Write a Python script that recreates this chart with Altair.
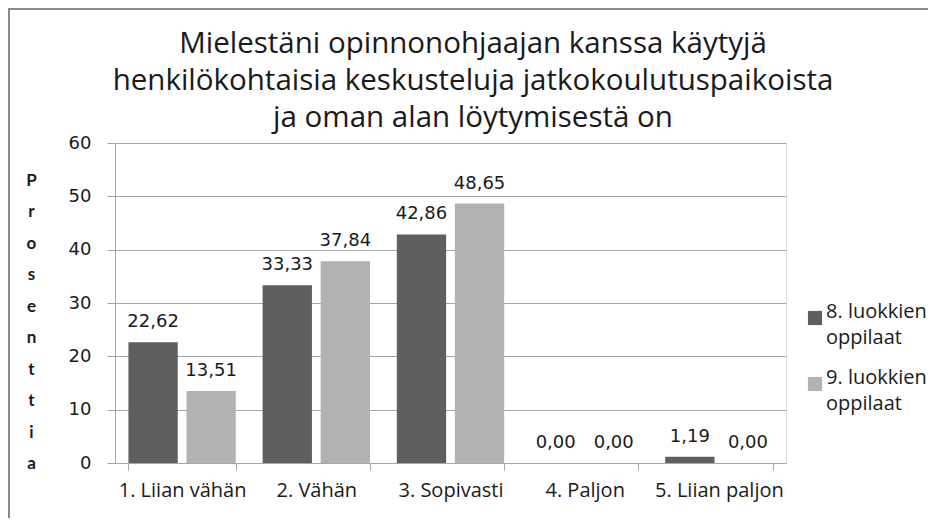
import altair as alt
import pandas as pd

categories = ["1. Liian vähän", "2. Vähän", "3. Sopivasti", "4. Paljon", "5. Liian paljon"]
series_names = ["8. luokkien oppilaat", "9. luokkien oppilaat"]
values_8 = [22.62, 33.33, 42.86, 0.00, 1.19]
values_9 = [13.51, 37.84, 48.65, 0.00, 0.00]
y_ticks = [0, 10, 20, 30, 40, 50, 60]
title_lines = [
    "Mielestäni opinnonohjaajan  kanssa käytyjä",
    "henkilökohtaisia keskusteluja jatkokoulutuspaikoista",
    "ja oman alan löytymisestä on",
]
y_title = "Prosenttia"

rows = []
for name, vals in zip(series_names, [values_8, values_9]):
    for c, v in zip(categories, vals):
        rows.append({"cat": c, "series": name, "value": v,
                     "label": f"{v:.2f}".replace(".", ",")})
df = pd.DataFrame(rows)
one = pd.DataFrame({"k": [0]})

GRID = "#a6a6a6"
TXT = "#1a1a1a"

x_enc = alt.X("cat:N", sort=categories, title=None,
              scale=alt.Scale(paddingInner=0.2, paddingOuter=0.1),
              axis=alt.Axis(labelAngle=0, labelFont="Open Sans", labelFontSize=20,
                            labelColor=TXT, labelPadding=10, tickBand="extent",
                            tickSize=7, tickColor=GRID, domainColor=GRID,
                            grid=False))
xo_enc = alt.XOffset("series:N", sort=series_names,
                     scale=alt.Scale(paddingInner=0.15))
y_enc = alt.Y("value:Q", scale=alt.Scale(domain=[0, 60], nice=False),
              title=list(y_title),
              axis=alt.Axis(values=y_ticks, labelFont="DejaVu Sans",
                            labelFontSize=18, labelColor=TXT, labelPadding=16,
                            tickSize=8, tickColor=GRID, domainColor=GRID,
                            gridColor=GRID, titleAngle=0, titleFont="Lato",
                            titleFontSize=17, titleFontWeight="bold",
                            titleColor=TXT, titleLineHeight=31.5,
                            titleBaseline="alphabetic", titleAlign="center",
                            titleX=-84, titleY=42))

bars = alt.Chart(df).mark_bar().encode(
    x=x_enc, xOffset=xo_enc, y=y_enc,
    color=alt.Color("series:N", sort=series_names,
                    scale=alt.Scale(domain=series_names,
                                    range=["#5f5f5f", "#b2b2b2"]),
                    legend=alt.Legend(title=None, orient="none", legendX=690,
                                      legendY=165, symbolType="square",
                                      symbolSize=200, symbolStrokeWidth=0,
                                      labelFont="Open Sans", labelFontSize=20,
                                      labelColor=TXT, labelLimit=200,
                                      labelBaseline="alphabetic",
                                      rowPadding=20, labelOffset=1,
                                      labelExpr="[slice(datum.label, 0, 11), slice(datum.label, 12)]")),
)

labels = alt.Chart(df).mark_text(baseline="alphabetic", dy=-15, font="DejaVu Sans",
                                 fontSize=18, color=TXT).encode(
    x=alt.X("cat:N", sort=categories), xOffset=xo_enc, y="value:Q", text="label:N")

title = alt.Chart(one).mark_text(font="Open Sans", fontSize=29.5, color=TXT,
                                 baseline="alphabetic", align="center",
                                 lineHeight=37).encode(
    x=alt.value(358), y=alt.value(-90), text=alt.value(title_lines))

border_top = alt.Chart(one).mark_rule(color="#8a8a8a", strokeWidth=2).encode(
    x=alt.value(-107), x2=alt.value(840), y=alt.value(-134))
border_left = alt.Chart(one).mark_rule(color="#8a8a8a", strokeWidth=2).encode(
    x=alt.value(-106), y=alt.value(-135), y2=alt.value(400))

chart = alt.layer(bars, labels, title, border_top, border_left).properties(
    width=671, height=320,
    autosize=alt.AutoSizeParams(type="none"),
    padding={"left": 107, "top": 135, "right": 142, "bottom": 55},
).configure_view(stroke=None).configure(
    background="white", style={"guide-label": {"lineHeight": 26}})

chart.save("out.html", embed_options={"renderer": "svg", "actions": False})
